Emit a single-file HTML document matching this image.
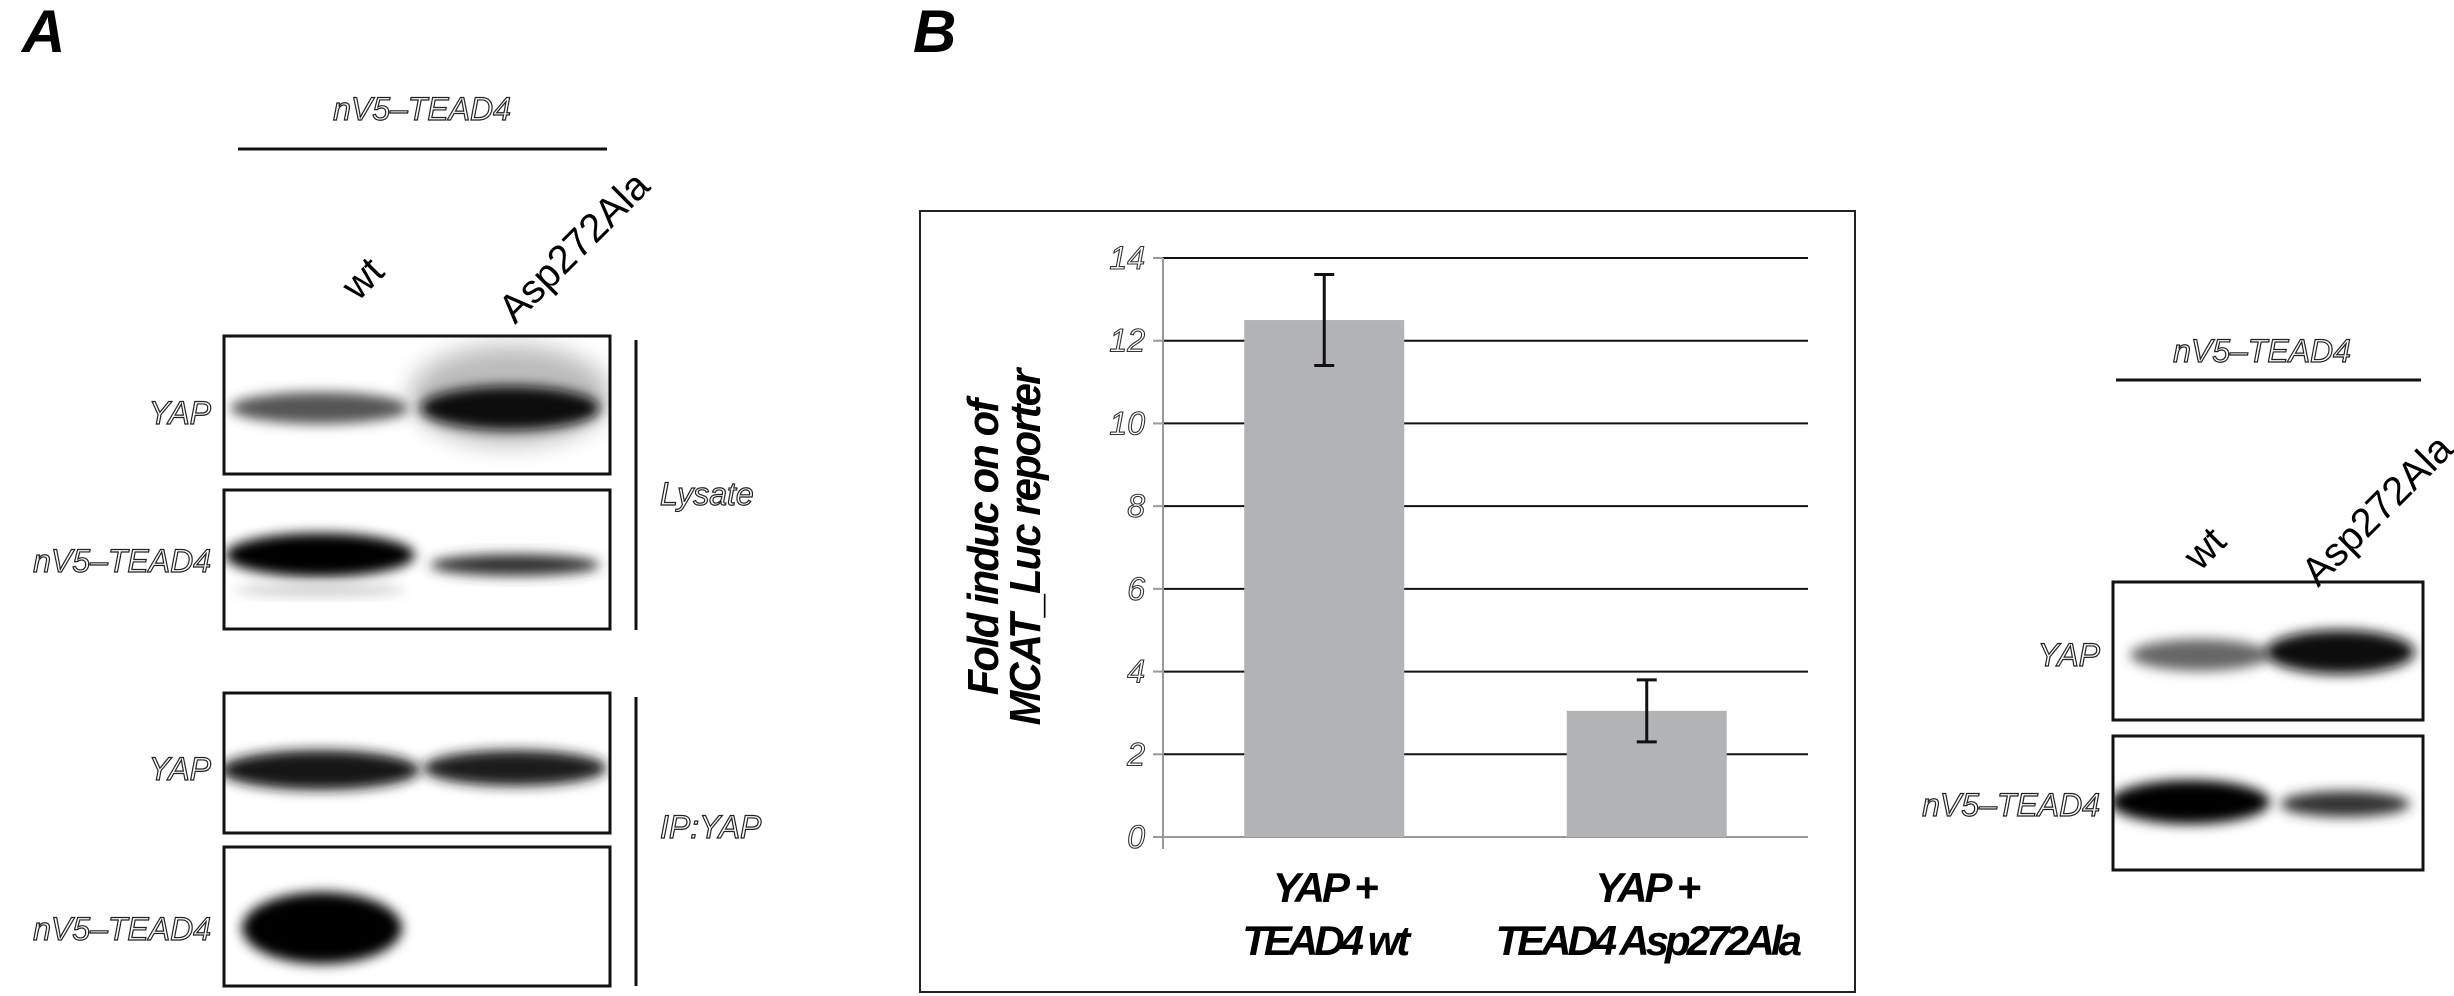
<!DOCTYPE html>
<html><head><meta charset="utf-8"><style>
html,body{margin:0;padding:0;background:#fff;}
svg{display:block;}
text{font-family:"Liberation Sans",sans-serif;}
.lab{font-style:italic;font-size:32px;fill:#fff;stroke:#222;stroke-width:1.2px;}
</style></head><body>
<svg width="2454" height="996" viewBox="0 0 2454 996">
<defs>
<filter id="b6" x="-20%" y="-50%" width="140%" height="200%"><feGaussianBlur stdDeviation="6"/></filter>
<filter id="b12" x="-30%" y="-80%" width="160%" height="260%"><feGaussianBlur stdDeviation="12"/></filter>
<clipPath id="c1"><rect x="224" y="336" width="386" height="138"/></clipPath>
<clipPath id="c2"><rect x="224" y="490" width="386" height="139"/></clipPath>
<clipPath id="c3"><rect x="224" y="693" width="386" height="140"/></clipPath>
<clipPath id="c4"><rect x="224" y="847" width="386" height="139"/></clipPath>
<clipPath id="c5"><rect x="2113" y="582" width="310" height="138"/></clipPath>
<clipPath id="c6"><rect x="2113" y="736" width="310" height="134"/></clipPath>
</defs>

<!-- Panel A -->
<text x="22" y="52" font-size="60" font-weight="bold" font-style="italic">A</text>
<text x="422" y="120" text-anchor="middle" class="lab">nV5–TEAD4</text>
<line x1="238" y1="149" x2="607" y2="149" stroke="#111" stroke-width="3"/>
<text transform="translate(358,302) rotate(-45)" font-size="40">wt</text>
<text transform="translate(515,325) rotate(-45)" font-size="40">Asp272Ala</text>

<g>
<g clip-path="url(#c1)">
<ellipse cx="320" cy="408" rx="90" ry="16" fill="#555" filter="url(#b6)"/>
<ellipse cx="510" cy="395" rx="100" ry="50" fill="#bbb" filter="url(#b12)"/>
<ellipse cx="510" cy="408" rx="90" ry="22" fill="#111" filter="url(#b6)"/>
</g>
<rect x="224" y="336" width="386" height="138" fill="none" stroke="#111" stroke-width="3"/>
</g>
<g>
<g clip-path="url(#c2)">
<ellipse cx="320" cy="555" rx="95" ry="22" fill="#000" filter="url(#b6)"/>
<ellipse cx="320" cy="590" rx="85" ry="6" fill="#ccc" filter="url(#b6)"/>
<ellipse cx="515" cy="565" rx="85" ry="11" fill="#333" filter="url(#b6)"/>
</g>
<rect x="224" y="490" width="386" height="139" fill="none" stroke="#111" stroke-width="3"/>
</g>
<g>
<g clip-path="url(#c3)">
<ellipse cx="320" cy="770" rx="100" ry="20" fill="#151515" filter="url(#b6)"/>
<ellipse cx="515" cy="768" rx="92" ry="18" fill="#1a1a1a" filter="url(#b6)"/>
</g>
<rect x="224" y="693" width="386" height="140" fill="none" stroke="#111" stroke-width="3"/>
</g>
<g>
<g clip-path="url(#c4)">
<ellipse cx="322" cy="928" rx="80" ry="36" fill="#000" filter="url(#b6)"/>
</g>
<rect x="224" y="847" width="386" height="139" fill="none" stroke="#111" stroke-width="3"/>
</g>

<text x="211" y="424" text-anchor="end" class="lab">YAP</text>
<text x="211" y="572" text-anchor="end" class="lab">nV5–TEAD4</text>
<text x="211" y="780" text-anchor="end" class="lab">YAP</text>
<text x="211" y="940" text-anchor="end" class="lab">nV5–TEAD4</text>
<line x1="636" y1="340" x2="636" y2="630" stroke="#111" stroke-width="3"/>
<line x1="636" y1="697" x2="636" y2="986" stroke="#111" stroke-width="3"/>
<text x="660" y="505" class="lab">Lysate</text>
<text x="660" y="838" class="lab">IP:YAP</text>

<!-- Panel B -->
<text x="913" y="52" font-size="60" font-weight="bold" font-style="italic">B</text>
<rect x="920" y="211" width="935" height="781" fill="#fff" stroke="#222" stroke-width="2"/>
<g id="chart"></g>
<g transform="translate(998,548) rotate(-90)">
<text x="0" y="0" text-anchor="middle" font-size="44" font-weight="bold" font-style="italic" letter-spacing="-2" transform="scale(0.95,1)">Fold induc  on of</text>
<text x="0" y="42" text-anchor="middle" font-size="44" font-weight="bold" font-style="italic" letter-spacing="-2" transform="scale(0.95,1)">MCAT_Luc reporter</text>
</g>

<!-- Right blot -->
<text x="2262" y="362" text-anchor="middle" class="lab">nV5–TEAD4</text>
<line x1="2116" y1="380" x2="2421" y2="380" stroke="#111" stroke-width="3"/>
<text transform="translate(2200,572) rotate(-45)" font-size="40">wt</text>
<text transform="translate(2318,588) rotate(-45)" font-size="40">Asp272Ala</text>
<g>
<g clip-path="url(#c5)">
<ellipse cx="2200" cy="655" rx="70" ry="16" fill="#666" filter="url(#b6)"/>
<ellipse cx="2340" cy="652" rx="75" ry="22" fill="#111" filter="url(#b6)"/>
</g>
<rect x="2113" y="582" width="310" height="138" fill="none" stroke="#111" stroke-width="3"/>
</g>
<g>
<g clip-path="url(#c6)">
<ellipse cx="2190" cy="802" rx="80" ry="22" fill="#000" filter="url(#b6)"/>
<ellipse cx="2345" cy="804" rx="65" ry="13" fill="#333" filter="url(#b6)"/>
</g>
<rect x="2113" y="736" width="310" height="134" fill="none" stroke="#111" stroke-width="3"/>
</g>
<text x="2100" y="666" text-anchor="end" class="lab">YAP</text>
<text x="2100" y="816" text-anchor="end" class="lab">nV5–TEAD4</text>
</svg>
<script>
const categories1 = ["YAP +", "YAP +"];
const categories2 = ["TEAD4 wt", "TEAD4 Asp272Ala"];
const values = [12.5, 3.05];
const errLow = [11.4, 2.3];
const errHigh = [13.6, 3.8];
const yTicks = [0, 2, 4, 6, 8, 10, 12, 14];

const NS = "http://www.w3.org/2000/svg";
const g = document.getElementById("chart");
const x0 = 1163, x1 = 1808, yBase = 837, yTop = 258, yMax = 14;
const y = v => yBase - (v / yMax) * (yBase - yTop);
const band = (x1 - x0) / categories1.length;
const xc = i => x0 + band * (i + 0.5);
function mk(tag, attrs) { const e = document.createElementNS(NS, tag); for (const k in attrs) e.setAttribute(k, attrs[k]); g.appendChild(e); return e; }

yTicks.forEach(t => {
  if (t > 0) {
    const l = mk("line", {x1: x0, x2: x1, y1: y(t), y2: y(t), stroke: "#111", "stroke-width": 2});
    
    
  }
  const tk = mk("line", {x1: x0 - 10, x2: x0, y1: y(t), y2: y(t), stroke: "#999", "stroke-width": 2});
  
  
  const tx = mk("text", {x: x0 - 18, y: y(t) + 11, "text-anchor": "end", "font-size": 32, "font-style": "italic", fill: "#fff", stroke: "#333", "stroke-width": 1.1});
  tx.textContent = t;
  
  
});
const ax = mk("line", {x1: x0, x2: x0, y1: yTop, y2: yBase + 12, stroke: "#999", "stroke-width": 2});


const bx = mk("line", {x1: x0 - 10, x2: x1, y1: yBase, y2: yBase, stroke: "#999", "stroke-width": 2});



values.forEach((v, i) => {
  const w = 160;
  const r = mk("rect", {x: xc(i) - w / 2, y: y(v), width: w, height: yBase - y(v), fill: "#b2b3b5"});
  
  
  const e = mk("path", {d: `M${xc(i)},${y(errLow[i])}V${y(errHigh[i])}M${xc(i)-10},${y(errLow[i])}H${xc(i)+10}M${xc(i)-10},${y(errHigh[i])}H${xc(i)+10}`, stroke: "#111", "stroke-width": 3, fill: "none"});
  
  
  const t1 = mk("text", {x: xc(i), y: 902, "text-anchor": "middle", "font-size": 42, "font-weight": "bold", "font-style": "italic", "letter-spacing": -3});
  t1.textContent = categories1[i];
  
  
  const t2 = mk("text", {x: xc(i), y: 955, "text-anchor": "middle", "font-size": 42, "font-weight": "bold", "font-style": "italic", "letter-spacing": -4});
  t2.textContent = categories2[i];
  
  
});
</script>
</body></html>
